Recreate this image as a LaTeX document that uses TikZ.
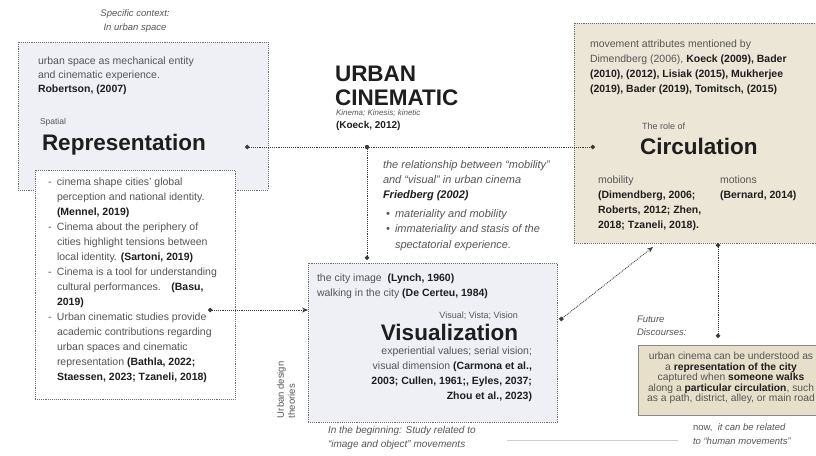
\documentclass[tikz,border=0pt]{standalone}
\usepackage{fontspec}
\setmainfont{Liberation Sans}
\usetikzlibrary{arrows.meta}
\definecolor{repfill}{HTML}{EEF0F6}
\definecolor{circfill}{HTML}{ECE6D7}
\definecolor{futfill}{HTML}{E7DFCA}
\definecolor{futline}{HTML}{8A8A8A}
\definecolor{boxline}{HTML}{6E6E6E}
\definecolor{conncol}{HTML}{3A3A3A}
\definecolor{txtgray}{HTML}{555555}
\definecolor{dark}{HTML}{1E1E1E}
\definecolor{faint}{HTML}{CFCFCF}
\newcommand\hb[1]{\textbf{\color{dark}#1}}
\newcommand\fs[2]{\fontsize{#1}{#2}\selectfont}
\tikzset{
  box/.style={draw=boxline, densely dotted, line width=0.9pt, inner sep=0pt, outer sep=0pt, anchor=north west},
  txt/.style={inner sep=0pt, outer sep=0pt, text=txtgray, align=left, anchor=north west, font=\fs{10.5}{14}},
  big/.style={inner sep=0pt, outer sep=0pt, text=dark, font=\fs{22.5}{24}\bfseries},
  conn/.style={draw=conncol, densely dotted, line width=0.9pt},
  dottip/.tip={Circle[length=4.5pt]},
}
\begin{document}
\begin{tikzpicture}[x=1pt,y=-1pt]
\useasboundingbox (0,0) rectangle (816,455);

% boxes
\node[box, fill=repfill, minimum width=250pt, minimum height=148pt] (rep) at (18,42) {};
\node[box, fill=white, minimum width=200pt, minimum height=229pt] (list) at (35,170) {};
\node[box, fill=repfill, minimum width=249pt, minimum height=159pt] (vis) at (308,263) {};
\node[box, fill=circfill, minimum width=250pt, minimum height=220pt] (circ) at (574,23) {};
\node[draw=futline, line width=0.8pt, fill=futfill, inner sep=0pt, outer sep=0pt, anchor=north west, minimum width=190pt, minimum height=70pt] (fut) at (638,345) {};

% connector end points
\coordinate (repdot) at (245,147);
\coordinate (circdot) at (595,147);
\coordinate (junc) at (367,147);
\coordinate (vistop) at (367,260);
\coordinate (listdot) at (208,310);
\coordinate (visleft) at (308,310);
\coordinate (visright) at (560,320);
\coordinate (circarrow) at (653,247);
\coordinate (circbot) at (718,243);
\coordinate (futtop) at (718,338);
\coordinate (faintA) at (507,440);
\coordinate (faintB) at (678,440);

% connectors
\draw[conn, dottip-dottip] (repdot) -- (circdot);
\fill[conncol] (junc) circle (2.2pt);
\draw[conn, -dottip] (junc) -- (vistop);
\draw[conn, dottip-{Stealth[length=6pt,width=5pt]}] (listdot) -- (visleft);
\draw[conn, {Square[length=3.5pt]}-{Stealth[length=6pt,width=5pt]}] (visright) -- (circarrow);
\draw[conn, dottip-dottip] (circbot) -- (futtop);
\draw[faint, line width=0.8pt] (faintA) -- (faintB);

% top-left
\node[txt, anchor=north, align=center, font=\fs{9.5}{14}\itshape] (ctx) at (135,10) {Specific context:\\In urban space};
\node[txt] (reptxt) at (38,57) {urban space as mechanical entity\\and cinematic experience.\\\hb{Robertson, (2007)}};
\node[txt, font=\fs{8.5}{10}] (spatial) at (40,118) {Spatial};
\node[big, anchor=base west] (reptitle) at (42,150) {Representation};

% title
\node[big, anchor=base west] (urban) at (335,81) {URBAN};
\node[big, anchor=base west] (cine) at (335,105) {CINEMATIC};
\node[txt, anchor=base west, font=\fs{8}{10}\itshape] (kin) at (336,115.5) {Kinema; Kinesis; kinetic};
\node[txt, anchor=base west, font=\fs{10}{12}] (koeck) at (336,128.5) {\hb{(Koeck, 2012)}};

% Friedberg
\node[txt, font=\fs{11}{15}\itshape] (fried) at (383,160.5) {the relationship between ``mobility''\\and ``visual'' in urban cinema\\\hb{Friedberg (2002)}};
\node[txt, font=\fs{11}{15.5}\itshape] (friedb) at (386,209.5) {\makebox[9pt][l]{•}materiality and mobility\\\makebox[9pt][l]{•}immateriality and stasis of the\\\makebox[9pt][l]{}spectatorial experience.};

% circulation
\node[txt, font=\fs{10.5}{15}] (circtxt) at (590,40) {movement attributes mentioned by\\Dimendberg (2006), \hb{Koeck (2009), Bader}\\\hb{(2010), (2012), Lisiak (2015), Mukherjee}\\\hb{(2019), Bader (2019), Tomitsch, (2015)}};
\node[txt, font=\fs{9}{10}] (roleof) at (642,123) {The role of};
\node[big, anchor=base west] (circtitle) at (640,154) {Circulation};
\node[txt, font=\fs{10.5}{15}] (mob) at (598,176) {mobility\\\hb{(Dimendberg, 2006;}\\\hb{Roberts, 2012; Zhen,}\\\hb{2018; Tzaneli, 2018).}};
\node[txt, font=\fs{10.5}{15}] (mot) at (720,176) {motions\\\hb{(Bernard, 2014)}};

% list
\node[txt, font=\fs{10.5}{15}] (listtxt) at (48,178) {%
\makebox[9pt][l]{-}cinema shape cities' global\\
\makebox[9pt][l]{}perception and national identity.\\
\makebox[9pt][l]{}\hb{(Mennel, 2019)}\\
\makebox[9pt][l]{-}Cinema about the periphery of\\
\makebox[9pt][l]{}cities highlight tensions between\\
\makebox[9pt][l]{}local identity. \hb{(Sartoni, 2019)}\\
\makebox[9pt][l]{-}Cinema is a tool for understanding\\
\makebox[9pt][l]{}cultural performances.\quad\hb{(Basu,}\\
\makebox[9pt][l]{}\hb{2019)}\\
\makebox[9pt][l]{-}Urban cinematic studies provide\\
\makebox[9pt][l]{}academic contributions regarding\\
\makebox[9pt][l]{}urban spaces and cinematic\\
\makebox[9pt][l]{}representation \hb{(Bathla, 2022;}\\
\makebox[9pt][l]{}\hb{Staessen, 2023; Tzaneli, 2018)}};

% visualization
\node[txt, font=\fs{10.5}{15}] (vistxt) at (317,274) {the city image \ \hb{(Lynch, 1960)}\\walking in the city \hb{(De Certeu, 1984)}};
\node[txt, anchor=base east, font=\fs{9}{10}] (vvv) at (518,318) {Visual; Vista; Vision};
\node[big, anchor=base east] (vistitle) at (518,340) {Visualization};
\node[txt, anchor=north east, align=right, font=\fs{10.5}{15}] (visref) at (532,347) {experiential values; serial vision;\\visual dimension \hb{(Carmona et al.,}\\\hb{2003; Cullen, 1961;, Eyles, 2037;}\\\hb{Zhou et al., 2023)}};
\node[txt, rotate=90, font=\fs{9.5}{11}] (udt) at (277,418) {Urban design\\theories};
\node[txt, font=\fs{10}{14}\itshape] (begin) at (328,426) {In the beginning: Study related to\\``image and object'' movements};

% future
\node[txt, font=\fs{9.5}{12.5}\itshape] (futlab) at (637,316) {Future\\Discourses:};
\node[txt, anchor=north, align=center, font=\fs{10.3}{10.6}] (futtxt) at (731,352) {urban cinema can be understood as\\a \hb{representation of the city}\\captured when \hb{someone walks}\\along a \hb{particular circulation}, such\\as a path, district, alley, or main road};
\node[txt, font=\fs{9.5}{13.5}\itshape] (now) at (693,424) {\upshape now,\ \ \itshape it can be related\\to ``human movements''};
\end{tikzpicture}
\end{document}
